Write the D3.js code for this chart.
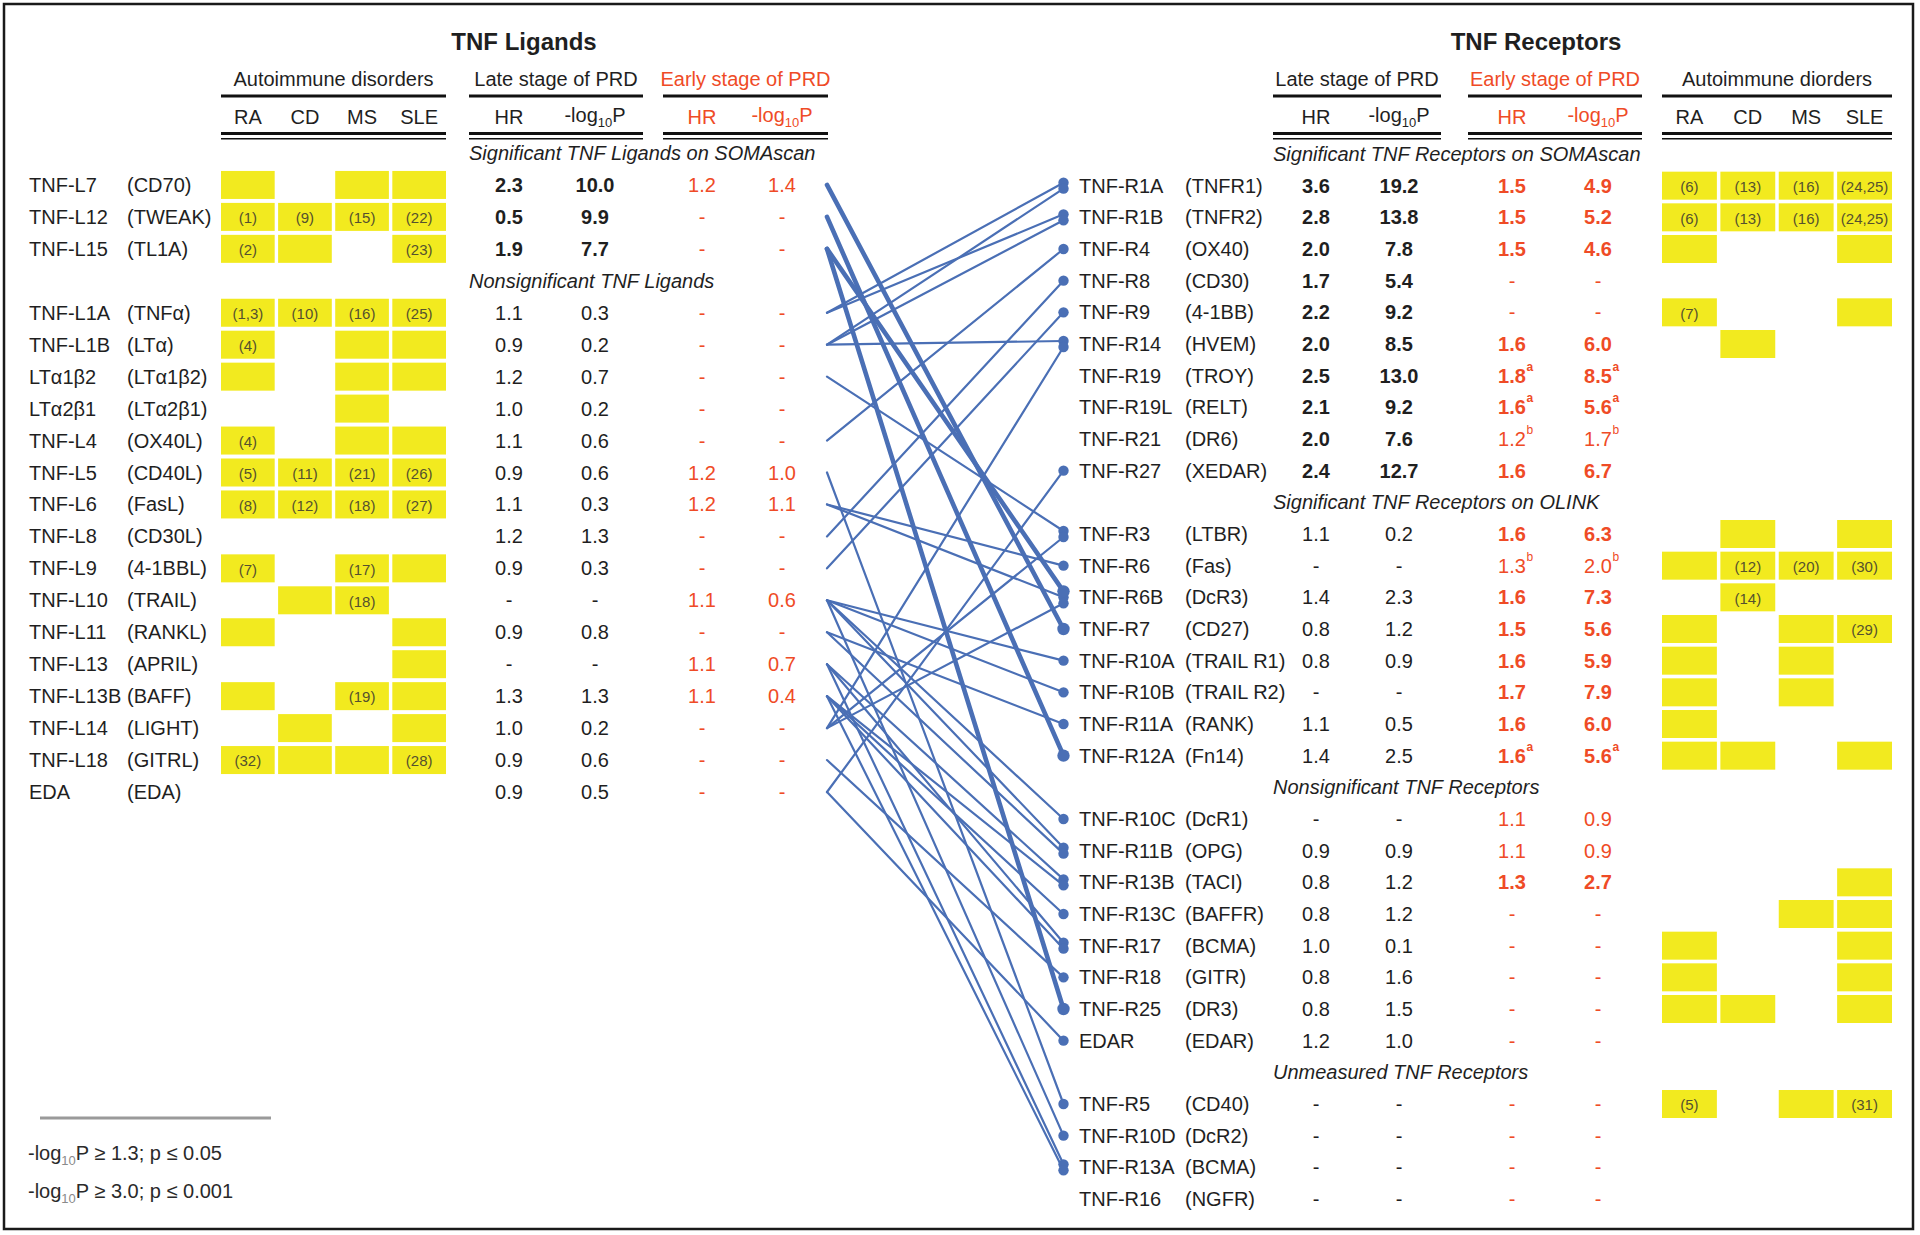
<!DOCTYPE html>
<html><head><meta charset="utf-8">
<script src="https://cdn.jsdelivr.net/npm/d3@7"></script>
<style>
html,body{margin:0;padding:0;background:#fff;}
svg{display:block;}
text{font-family:"Liberation Sans", Arial, Helvetica, sans-serif;}
</style></head><body>
<svg id="chart" width="1920" height="1235"></svg>
<script>
// ---------------- DATA ----------------
const diseaseCols = ["RA", "CD", "MS", "SLE"];

const ligandGroupTitles = ["Significant TNF Ligands on SOMAscan", "Nonsignificant TNF Ligands"];
const ligandGroup   = [0,0,0,1,1,1,1,1,1,1,1,1,1,1,1,1,1,1,1];
const ligandNames   = ["TNF-L7","TNF-L12","TNF-L15","TNF-L1A","TNF-L1B","LTα1β2","LTα2β1","TNF-L4","TNF-L5","TNF-L6","TNF-L8","TNF-L9","TNF-L10","TNF-L11","TNF-L13","TNF-L13B","TNF-L14","TNF-L18","EDA"];
const ligandAliases = ["(CD70)","(TWEAK)","(TL1A)","(TNFα)","(LTα)","(LTα1β2)","(LTα2β1)","(OX40L)","(CD40L)","(FasL)","(CD30L)","(4-1BBL)","(TRAIL)","(RANKL)","(APRIL)","(BAFF)","(LIGHT)","(GITRL)","(EDA)"];
const ligandLateHR    = [2.3,0.5,1.9,1.1,0.9,1.2,1.0,1.1,0.9,1.1,1.2,0.9,null,0.9,null,1.3,1.0,0.9,0.9];
const ligandLateLogP  = [10.0,9.9,7.7,0.3,0.2,0.7,0.2,0.6,0.6,0.3,1.3,0.3,null,0.8,null,1.3,0.2,0.6,0.5];
const ligandEarlyHR   = [1.2,null,null,null,null,null,null,null,1.2,1.2,null,null,1.1,null,1.1,1.1,null,null,null];
const ligandEarlyLogP = [1.4,null,null,null,null,null,null,null,1.0,1.1,null,null,0.6,null,0.7,0.4,null,null,null];
// autoimmune association: null = none, "" = associated, "(n)" = associated with reference
const ligandRA  = ["","(1)","(2)","(1,3)","(4)","",null,"(4)","(5)","(8)",null,"(7)",null,"",null,"",null,"(32)",null];
const ligandCD  = [null,"(9)","","(10)",null,null,null,null,"(11)","(12)",null,null,"",null,null,null,"","",null];
const ligandMS  = ["","(15)",null,"(16)","","","","","(21)","(18)",null,"(17)","(18)",null,null,"(19)",null,"",null];
const ligandSLE = ["","(22)","(23)","(25)","","",null,"","(26)","(27)",null,"",null,"","","","","(28)",null];

const receptorGroupTitles = ["Significant TNF Receptors on SOMAscan","Significant TNF Receptors on OLINK","Nonsignificant TNF Receptors","Unmeasured TNF Receptors"];
const receptorGroup   = [0,0,0,0,0,0,0,0,0,0, 1,1,1,1,1,1,1,1, 2,2,2,2,2,2,2,2, 3,3,3,3];
const receptorNames   = ["TNF-R1A","TNF-R1B","TNF-R4","TNF-R8","TNF-R9","TNF-R14","TNF-R19","TNF-R19L","TNF-R21","TNF-R27",
                         "TNF-R3","TNF-R6","TNF-R6B","TNF-R7","TNF-R10A","TNF-R10B","TNF-R11A","TNF-R12A",
                         "TNF-R10C","TNF-R11B","TNF-R13B","TNF-R13C","TNF-R17","TNF-R18","TNF-R25","EDAR",
                         "TNF-R5","TNF-R10D","TNF-R13A","TNF-R16"];
const receptorAliases = ["(TNFR1)","(TNFR2)","(OX40)","(CD30)","(4-1BB)","(HVEM)","(TROY)","(RELT)","(DR6)","(XEDAR)",
                         "(LTBR)","(Fas)","(DcR3)","(CD27)","(TRAIL R1)","(TRAIL R2)","(RANK)","(Fn14)",
                         "(DcR1)","(OPG)","(TACI)","(BAFFR)","(BCMA)","(GITR)","(DR3)","(EDAR)",
                         "(CD40)","(DcR2)","(BCMA)","(NGFR)"];
const receptorLateHR    = [3.6,2.8,2.0,1.7,2.2,2.0,2.5,2.1,2.0,2.4, 1.1,null,1.4,0.8,0.8,null,1.1,1.4, null,0.9,0.8,0.8,1.0,0.8,0.8,1.2, null,null,null,null];
const receptorLateLogP  = [19.2,13.8,7.8,5.4,9.2,8.5,13.0,9.2,7.6,12.7, 0.2,null,2.3,1.2,0.9,null,0.5,2.5, null,0.9,1.2,1.2,0.1,1.6,1.5,1.0, null,null,null,null];
const receptorEarlyHR   = [1.5,1.5,1.5,null,null,1.6,1.8,1.6,1.2,1.6, 1.6,1.3,1.6,1.5,1.6,1.7,1.6,1.6, 1.1,1.1,1.3,null,null,null,null,null, null,null,null,null];
const receptorEarlyLogP = [4.9,5.2,4.6,null,null,6.0,8.5,5.6,1.7,6.7, 6.3,2.0,7.3,5.6,5.9,7.9,6.0,5.6, 0.9,0.9,2.7,null,null,null,null,null, null,null,null,null];
const receptorEarlyNote = ["","","","","","","a","a","b","", "","b","","","","","","a", "","","","","","","","", "","","",""];
const receptorEarlySignificant = [1,1,1,0,0,1,1,1,0,1, 1,0,1,1,1,1,1,1, 0,0,1,0,0,0,0,0, 0,0,0,0];
const receptorRA  = ["(6)","(6)","",null,"(7)",null,null,null,null,null, null,"",null,"","","","","", null,null,null,null,"","","",null, "(5)",null,null,null];
const receptorCD  = ["(13)","(13)",null,null,null,"",null,null,null,null, "","(12)","(14)",null,null,null,null,"", null,null,null,null,null,null,"",null, null,null,null,null];
const receptorMS  = ["(16)","(16)",null,null,null,null,null,null,null,null, null,"(20)",null,"","","",null,null, null,null,null,"",null,null,null,null, "",null,null,null];
const receptorSLE = ["(24,25)","(24,25)","",null,"",null,null,null,null,null, "","(30)",null,"(29)",null,null,null,"", null,null,"","","","","",null, "(31)",null,null,null];

// ligand -> receptor binding pairs
const links = [
  ["TNF-L7","TNF-R7"], ["TNF-L12","TNF-R12A"], ["TNF-L15","TNF-R6B"], ["TNF-L15","TNF-R25"],
  ["TNF-L1A","TNF-R1A"], ["TNF-L1A","TNF-R1B"],
  ["TNF-L1B","TNF-R1A"], ["TNF-L1B","TNF-R1B"], ["TNF-L1B","TNF-R14"],
  ["LTα1β2","TNF-R3"], ["TNF-L4","TNF-R4"], ["TNF-L5","TNF-R5"],
  ["TNF-L6","TNF-R6"], ["TNF-L6","TNF-R6B"], ["TNF-L8","TNF-R8"], ["TNF-L9","TNF-R9"],
  ["TNF-L10","TNF-R10A"], ["TNF-L10","TNF-R10B"], ["TNF-L10","TNF-R10C"], ["TNF-L10","TNF-R10D"], ["TNF-L10","TNF-R11B"],
  ["TNF-L11","TNF-R11A"], ["TNF-L11","TNF-R11B"],
  ["TNF-L13","TNF-R13B"], ["TNF-L13","TNF-R17"], ["TNF-L13","TNF-R13A"],
  ["TNF-L13B","TNF-R13B"], ["TNF-L13B","TNF-R13C"], ["TNF-L13B","TNF-R17"], ["TNF-L13B","TNF-R13A"],
  ["TNF-L14","TNF-R14"], ["TNF-L14","TNF-R3"], ["TNF-L14","TNF-R6B"],
  ["TNF-L18","TNF-R18"], ["EDA","TNF-R27"], ["EDA","EDAR"]
];

// ---------------- LAYOUT ----------------
const BLACK = "#1f1f1f", RED = "#ef4b26", YELLOW = "#f2ea1f", BLUE = "#4a6fb5", CELLTXT = "#55512e";
const FS = 20;
const svg = d3.select("#chart");

svg.append("rect").attr("x", 4).attr("y", 4).attr("width", 1909).attr("height", 1225)
  .attr("fill", "#fff").attr("stroke", "#1a1a1a").attr("stroke-width", 2.5);

const Lcfg = {title: 524, name: 29, alias: 127, cells: [221, 446], lateHR: 509, lateP: 595, lateLine: [469, 643],
  earlyHR: 702, earlyP: 782, earlyLine: [663, 828], section: 469, rows: [153, 792], autoTitle: "Autoimmune disorders", titleText: "TNF Ligands"};
const Rcfg = {title: 1536, name: 1079, alias: 1185, cells: [1662, 1892], lateHR: 1316, lateP: 1399, lateLine: [1273, 1441],
  earlyHR: 1512, earlyP: 1598, earlyLine: [1468, 1642], section: 1273, rows: [154, 1199], autoTitle: "Autoimmune diorders", titleText: "TNF Receptors"};
const linkX0 = 827, dotX = 1063.5;

function txt(g, x, y, s, opts = {}) {
  return g.append("text").attr("x", x).attr("y", y).attr("dy", "0.35em")
    .attr("font-size", opts.size || FS).attr("fill", opts.fill || BLACK)
    .attr("font-weight", opts.weight || "normal").attr("font-style", opts.style || "normal")
    .attr("text-anchor", opts.anchor || "start").text(s);
}
function logText(g, x, y, opts = {}) {
  const t = g.append("text").attr("x", x).attr("y", y).attr("dy", "0.35em")
    .attr("font-size", opts.size || FS).attr("fill", opts.fill || BLACK)
    .attr("text-anchor", opts.anchor || "middle");
  t.append("tspan").text("-log");
  t.append("tspan").attr("font-size", 13).attr("dy", 5).attr("fill", opts.subFill || opts.fill || BLACK).text("10");
  t.append("tspan").attr("dy", -5).text("P" + (opts.suffix || ""));
  return t;
}
function hline(g, x1, x2, y, w, c) {
  g.append("line").attr("x1", x1).attr("x2", x2).attr("y1", y).attr("y2", y)
    .attr("stroke", c || "#111").attr("stroke-width", w);
}

function drawPanel(cfg, items) {
  const g = svg.append("g");
  // build row list (group headers + entries)
  const rows = [];
  let cur = -1;
  items.forEach((d, i) => {
    if (d.group !== cur) { cur = d.group; rows.push({type: "hdr", text: d.groupTitle}); }
    rows.push({type: "row", d});
    d.row = rows.length - 1;
  });
  const y = d3.scalePoint().domain(d3.range(rows.length)).range(cfg.rows);
  const xc = d3.scaleBand().domain(diseaseCols).range(cfg.cells).paddingInner(0.06);

  // headers
  txt(g, cfg.title, 42, cfg.titleText, {size: 24, weight: "bold", anchor: "middle"});
  txt(g, d3.mean(cfg.cells), 79, cfg.autoTitle, {anchor: "middle"});
  txt(g, d3.mean(cfg.lateLine), 79, "Late stage of PRD", {anchor: "middle"});
  txt(g, d3.mean(cfg.earlyLine), 79, "Early stage of PRD", {anchor: "middle", fill: RED});
  [cfg.cells, cfg.lateLine, cfg.earlyLine].forEach(r => {
    hline(g, r[0], r[1], 96, 3.2);
    hline(g, r[0], r[1], 133.5, 3.2);
    hline(g, r[0], r[1], 138.8, 1.6);
  });
  diseaseCols.forEach(c => txt(g, xc(c) + xc.bandwidth() / 2, 117, c, {anchor: "middle"}));
  txt(g, cfg.lateHR, 117, "HR", {anchor: "middle"});
  logText(g, cfg.lateP, 115);
  txt(g, cfg.earlyHR, 117, "HR", {anchor: "middle", fill: RED});
  logText(g, cfg.earlyP, 115, {fill: RED});

  rows.forEach((r, i) => {
    if (r.type === "hdr") txt(g, cfg.section, y(i), r.text, {style: "italic"});
  });

  // cells
  items.forEach(d => {
    diseaseCols.forEach((c, k) => {
      const v = d.auto[k];
      if (v === null) return;
      g.append("rect").attr("x", xc(c)).attr("y", y(d.row) - 14).attr("width", xc.bandwidth()).attr("height", 28)
        .attr("fill", YELLOW);
      if (v) txt(g, xc(c) + xc.bandwidth() / 2, y(d.row) + 1, v, {size: 15, anchor: "middle", fill: CELLTXT});
    });
    txt(g, cfg.name, y(d.row), d.name);
    txt(g, cfg.alias, y(d.row), d.alias);
    const fmt = v => v === null ? "-" : v.toFixed(1);
    const bw = d.group === 0 ? "bold" : "normal";
    txt(g, cfg.lateHR, y(d.row), fmt(d.lateHR), {anchor: "middle", weight: bw});
    txt(g, cfg.lateP, y(d.row), fmt(d.lateP), {anchor: "middle", weight: bw});
    const rw = d.earlySig ? "bold" : "normal";
    [[cfg.earlyHR, d.earlyHR], [cfg.earlyP, d.earlyP]].forEach(([x, v]) => {
      const t = txt(g, x, y(d.row), fmt(v), {anchor: "middle", fill: RED, weight: rw});
      if (d.note && v !== null) {
        const w = t.node().getComputedTextLength();
        g.append("text").attr("x", x + w / 2 + 0.5).attr("y", y(d.row) - 5)
          .attr("font-size", 12).attr("fill", RED).attr("font-weight", rw).text(d.note);
      }
    });
  });
  return y;
}

const ligands = ligandNames.map((n, i) => ({
  name: n, alias: ligandAliases[i], group: ligandGroup[i], groupTitle: ligandGroupTitles[ligandGroup[i]],
  lateHR: ligandLateHR[i], lateP: ligandLateLogP[i], earlyHR: ligandEarlyHR[i], earlyP: ligandEarlyLogP[i],
  earlySig: 0, note: "", auto: [ligandRA[i], ligandCD[i], ligandMS[i], ligandSLE[i]]
}));
const receptors = receptorNames.map((n, i) => ({
  name: n, alias: receptorAliases[i], group: receptorGroup[i], groupTitle: receptorGroupTitles[receptorGroup[i]],
  lateHR: receptorLateHR[i], lateP: receptorLateLogP[i], earlyHR: receptorEarlyHR[i], earlyP: receptorEarlyLogP[i],
  earlySig: receptorEarlySignificant[i], note: receptorEarlyNote[i],
  auto: [receptorRA[i], receptorCD[i], receptorMS[i], receptorSLE[i]]
}));

const yL = drawPanel(Lcfg, ligands);
const yR = drawPanel(Rcfg, receptors);

// links
const ligByName = new Map(ligands.map(d => [d.name, d]));
const recByName = new Map(receptors.map(d => [d.name, d]));
const linkData = links.map(([l, r]) => ({lig: ligByName.get(l), rec: recByName.get(r)}));
d3.group(linkData, d => d.rec.name).forEach(arr => {
  arr.sort((a, b) => a.lig.row - b.lig.row);
  arr.forEach((d, i) => { d.off = (i - (arr.length - 1) / 2) * 6; });
});
linkData.forEach(d => { d.thick = d.lig.group === 0; });
linkData.sort((a, b) => a.thick - b.thick);
const lg = svg.append("g");
lg.selectAll("line").data(linkData).join("line")
  .attr("x1", linkX0).attr("y1", d => yL(d.lig.row))
  .attr("x2", dotX).attr("y2", d => yR(d.rec.row) + d.off)
  .attr("stroke", BLUE).attr("stroke-width", d => d.thick ? 4.6 : 2.2).attr("stroke-linecap", "round");
lg.selectAll("circle").data(linkData).join("circle")
  .attr("cx", dotX).attr("cy", d => yR(d.rec.row) + d.off)
  .attr("r", d => d.thick ? 6.2 : 5.2).attr("fill", BLUE);

// legend
const leg = svg.append("g");
hline(leg, 40, 271, 1118, 3, "#9a9a9a");
const t1 = logText(leg, 28, 1153, {anchor: "start", subFill: "#8a8a8a", suffix: " ≥ 1.3; p ≤ 0.05", fill: "#2a2a2a"});
const t2 = logText(leg, 28, 1191, {anchor: "start", subFill: "#8a8a8a", suffix: " ≥ 3.0; p ≤ 0.001", fill: "#2a2a2a"});
</script>
</body></html>
